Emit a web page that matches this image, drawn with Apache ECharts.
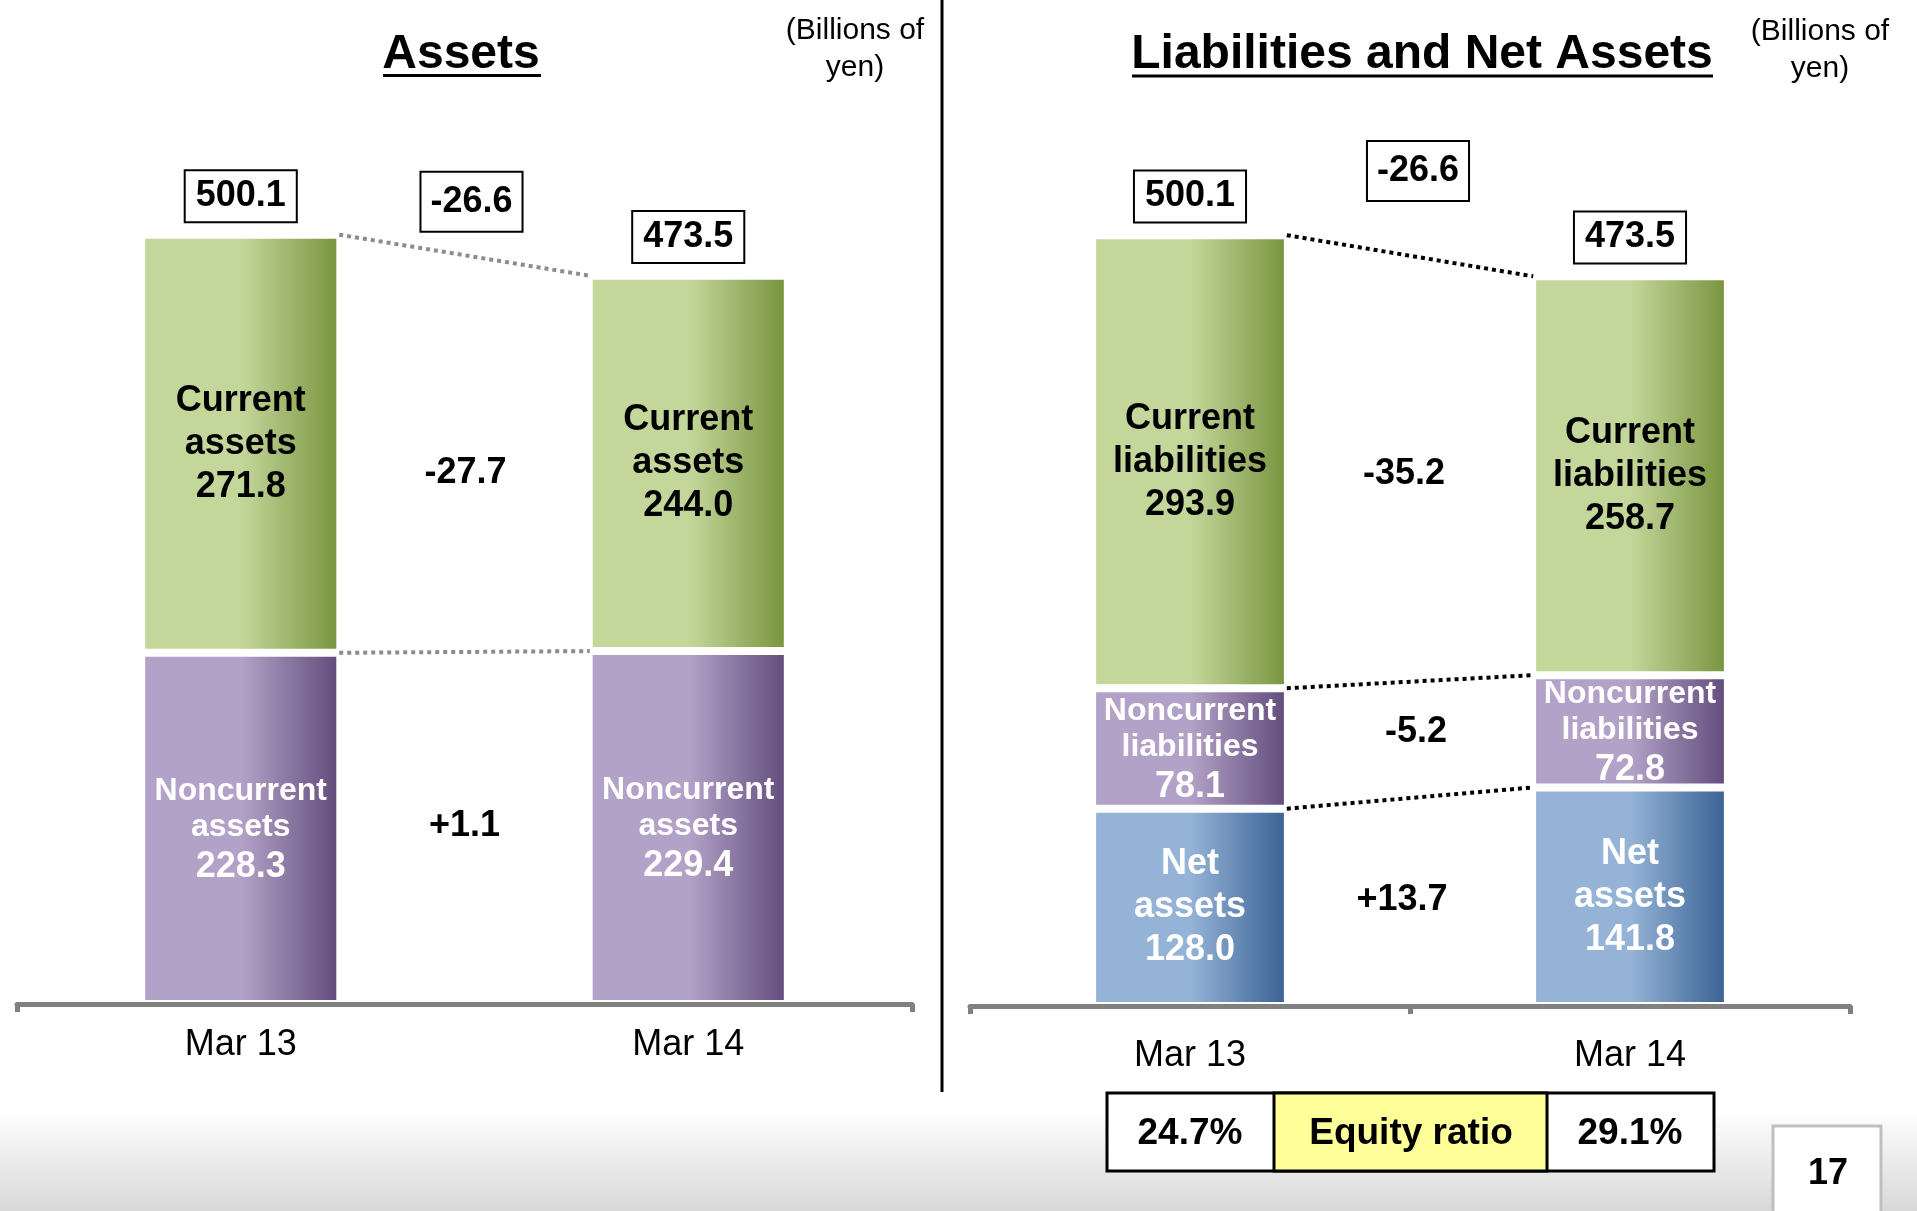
<!DOCTYPE html>
<html><head><meta charset="utf-8">
<script src="https://cdn.jsdelivr.net/npm/echarts@6/dist/echarts.min.js"></script>
<style>html,body{margin:0;padding:0;background:#fff;}#c{width:1917px;height:1211px;}</style>
</head><body><div id="c"></div>
<script>
// ---------------- DATA (billions of yen) ----------------
const categories = ['Mar 13', 'Mar 14'];
// Assets
const currentAssets = [271.8, 244.0];
const noncurrentAssets = [228.3, 229.4];
const totalAssets = [500.1, 473.5];
const assetsChange = [-26.6];
const currentAssetsChange = [-27.7];
const noncurrentAssetsChange = [1.1];
// Liabilities and net assets
const currentLiabilities = [293.9, 258.7];
const noncurrentLiabilities = [78.1, 72.8];
const netAssets = [128.0, 141.8];
const totalLiabNet = [500.1, 473.5];
const liabNetChange = [-26.6];
const currentLiabChange = [-35.2];
const noncurrentLiabChange = [-5.2];
const netAssetsChange = [13.7];
const equityRatio = [24.7, 29.1];
const pageNumber = '17';

// ---------------- STYLE / LAYOUT ----------------
const FONT = '"Liberation Sans", Arial, Helvetica, sans-serif';
const GREEN = ['#c4d79b', '#77933c'];
const PURPLE = ['#b3a2c7', '#604a7b'];
const BLUE = ['#95b3d7', '#376092'];
const AXIS_GRAY = '#808080';
function grad(c) {
  return new echarts.graphic.LinearGradient(0, 0, 1, 0, [
    {offset: 0, color: c[0]}, {offset: 0.5, color: c[0]}, {offset: 1, color: c[1]}]);
}
const signed = v => (v > 0 ? '+' : '') + v.toFixed(1);
const sum = arrs => arrs[0].map((_, i) => arrs.reduce((s, a) => s + a[i], 0));
const mid = (lo, seg) => lo.map((l, i) => l + seg[i] / 2);
const avg = a => a.reduce((s, v) => s + v, 0) / a.length;

const chart = echarts.init(document.getElementById('c'));

const blackLabel = {
  show: true, position: 'inside', color: '#000', fontFamily: FONT, fontWeight: 'bold',
  fontSize: 36, lineHeight: 43,
  formatter: p => p.seriesName.replace(' ', '\n') + '\n' + p.value.toFixed(1)
};
const whiteLabel = Object.assign({}, blackLabel, {color: '#fff'});
const ncLabel = {
  show: true, position: 'inside', offset: [0, 3],
  formatter: p => p.seriesName.split(' ').map(w => '{a|' + w + '}').join('\n') + '\n{v|' + p.value.toFixed(1) + '}',
  rich: {
    a: {color: '#fff', fontFamily: FONT, fontWeight: 'bold', fontSize: 32, lineHeight: 36},
    v: {color: '#fff', fontFamily: FONT, fontWeight: 'bold', fontSize: 36, lineHeight: 44}
  }
};
function bar(name, data, xi, yi, stack, colors, label) {
  return {type: 'bar', name, data, xAxisIndex: xi, yAxisIndex: yi, stack, barWidth: '44.5%',
    itemStyle: {color: grad(colors), borderColor: '#fff', borderWidth: 4}, label, z: 2};
}
const boxStyle = {borderColor: '#000', borderWidth: 2, backgroundColor: '#fff'};
const hiddenSymbol = {color: 'rgba(0,0,0,0)', opacity: 1};
function totals(data, xi, yi) {
  return {type: 'scatter', data, xAxisIndex: xi, yAxisIndex: yi, symbolSize: 1, silent: true, z: 6,
    itemStyle: hiddenSymbol,
    label: Object.assign({show: true, position: 'top', distance: 13, formatter: p => p.value.toFixed(1),
      color: '#000', fontFamily: FONT, fontWeight: 'bold', fontSize: 36, lineHeight: 38, padding: [6, 10]}, boxStyle)};
}
function diffs(items, xi, yi) {
  return {type: 'scatter', xAxisIndex: xi, yAxisIndex: yi, symbolSize: 1, silent: true, z: 6,
    itemStyle: hiddenSymbol,
    data: items.map(it => ({value: [1, it.y], label: Object.assign({
      show: true, position: 'inside', offset: it.off, formatter: signed(it.v), color: '#000',
      fontFamily: FONT, fontWeight: 'bold', fontSize: 36, lineHeight: 38},
      it.box ? Object.assign({padding: [10, 9]}, boxStyle) : {})}))};
}
function connector(y, xi, yi, color) {
  return {type: 'line', xAxisIndex: xi, yAxisIndex: yi, data: [[0.72, y[0]], [1.28, y[1]]],
    symbol: 'none', silent: true, z: 4, lineStyle: {color, width: 4, type: [4, 4]}};
}
function catAxis(grid, margin) {
  return {type: 'category', gridIndex: grid, data: categories, position: 'bottom', z: 5,
    axisLine: {lineStyle: {color: AXIS_GRAY, width: 5}}, axisTick: {show: false},
    axisLabel: {color: '#000', fontFamily: FONT, fontSize: 36, lineHeight: 40, margin}};
}
function tickAxis(grid, interval) {
  return {type: 'value', gridIndex: grid, min: 0, max: 2, interval, position: 'bottom', z: 5,
    axisLine: {show: false}, splitLine: {show: false}, axisLabel: {show: false},
    axisTick: {show: true, length: 8, lineStyle: {color: AXIS_GRAY, width: 5}}};
}

// cumulative levels
const aTop = sum([noncurrentAssets, currentAssets]);
const lNet = netAssets;
const lMid = sum([netAssets, noncurrentLiabilities]);
const lTop = sum([netAssets, noncurrentLiabilities, currentLiabilities]);

const option = {
  animation: false,
  backgroundColor: '#ffffff',
  grid: [
    {left: 17, width: 895, top: 81, height: 923},
    {left: 970, width: 880, top: 81, height: 925}
  ],
  xAxis: [catAxis(0, 21), tickAxis(0, 2), catAxis(1, 30), tickAxis(1, 1)],
  yAxis: [
    {type: 'value', gridIndex: 0, min: 0, max: 600, show: false},
    {type: 'value', gridIndex: 1, min: 0, max: 600, show: false}
  ],
  series: [
    bar('Noncurrent assets', noncurrentAssets, 0, 0, 'a', PURPLE, ncLabel),
    bar('Current assets', currentAssets, 0, 0, 'a', GREEN, blackLabel),
    totals(totalAssets, 0, 0),
    connector(aTop, 1, 0, '#8c8c8c'),
    connector(noncurrentAssets, 1, 0, '#8c8c8c'),
    diffs([
      {v: assetsChange[0], y: Math.max(...totalAssets), off: [7, -33], box: true},
      {v: currentAssetsChange[0], y: avg(mid(noncurrentAssets, currentAssets)), off: [1, 19]},
      {v: noncurrentAssetsChange[0], y: avg(mid([0, 0], noncurrentAssets)), off: [0, -2]}
    ], 1, 0),

    bar('Net assets', netAssets, 2, 1, 'l', BLUE, whiteLabel),
    bar('Noncurrent liabilities', noncurrentLiabilities, 2, 1, 'l', PURPLE, ncLabel),
    bar('Current liabilities', currentLiabilities, 2, 1, 'l', GREEN, blackLabel),
    totals(totalLiabNet, 2, 1),
    connector(lTop, 3, 1, '#000'),
    connector(lMid, 3, 1, '#000'),
    connector(lNet, 3, 1, '#000'),
    diffs([
      {v: liabNetChange[0], y: Math.max(...totalLiabNet), off: [8, -64], box: true},
      {v: currentLiabChange[0], y: avg(mid(lMid, currentLiabilities)), off: [-6, 5]},
      {v: noncurrentLiabChange[0], y: avg(mid(lNet, noncurrentLiabilities)), off: [6, -8]},
      {v: netAssetsChange[0], y: avg(mid([0, 0], netAssets)), off: [-8, -2]}
    ], 3, 1)
  ]
};
chart.setOption(option);

// ---------------- decorations ----------------
const px = v => chart.convertToPixel({xAxisIndex: 3}, v);
const c0 = px(0.5), c1 = px(1.5);
const tY = 1093, tH = 78;
const txt = (x, y, text, size, weight, extra) => ({type: 'text', x, y, silent: true, z: 20,
  style: Object.assign({text, fill: '#000', fontFamily: FONT, fontSize: size, fontWeight: weight,
    textAlign: 'center', textVerticalAlign: 'middle', align: 'center', verticalAlign: 'middle'}, extra || {})});
const ln = (x1, y1, x2, y2, w, c) => ({type: 'line', silent: true, z: 20, shape: {x1, y1, x2, y2},
  style: {stroke: c || '#000', lineWidth: w}});

chart.setOption({graphic: [
  {type: 'rect', silent: true, z: -10, shape: {x: 0, y: 1110, width: 1917, height: 101},
    style: {fill: new echarts.graphic.LinearGradient(0, 0, 0, 1, [{offset: 0, color: '#ffffff'}, {offset: 1, color: '#d8d8d8'}])}},
  ln(942, 0, 942, 1092, 3),
  txt(461, 55, 'Assets', 48, 'bold'),
  ln(383, 75.5, 541, 75.5, 3),
  txt(1422, 55, 'Liabilities and Net Assets', 48, 'bold'),
  ln(1132, 76, 1713, 76, 3),
  txt(855, 49, '(Billions of\nyen)', 30, 'normal', {lineHeight: 37}),
  txt(1820, 50, '(Billions of\nyen)', 30, 'normal', {lineHeight: 37}),
  // equity ratio table
  {type: 'rect', silent: true, z: 19, shape: {x: c0 - 83, y: tY, width: (c1 + 84) - (c0 - 83), height: tH},
    style: {fill: '#fff', stroke: '#000', lineWidth: 3}},
  {type: 'rect', silent: true, z: 19, shape: {x: c0 + 84, y: tY, width: (c1 - 83) - (c0 + 84), height: tH},
    style: {fill: '#ffff99', stroke: '#000', lineWidth: 3}},
  txt(c0, tY + tH / 2 + 2, equityRatio[0].toFixed(1) + '%', 37, 'bold'),
  txt((c0 + c1) / 2 + 1, tY + tH / 2 + 2, 'Equity ratio', 37, 'bold'),
  txt(c1, tY + tH / 2 + 2, equityRatio[1].toFixed(1) + '%', 37, 'bold'),
  // page number
  {type: 'rect', silent: true, z: 19, shape: {x: 1773, y: 1126, width: 108, height: 100},
    style: {fill: '#fff', stroke: '#bfbfbf', lineWidth: 3}},
  txt(1828, 1174, pageNumber, 36, 'bold')
]});
</script></body></html>
